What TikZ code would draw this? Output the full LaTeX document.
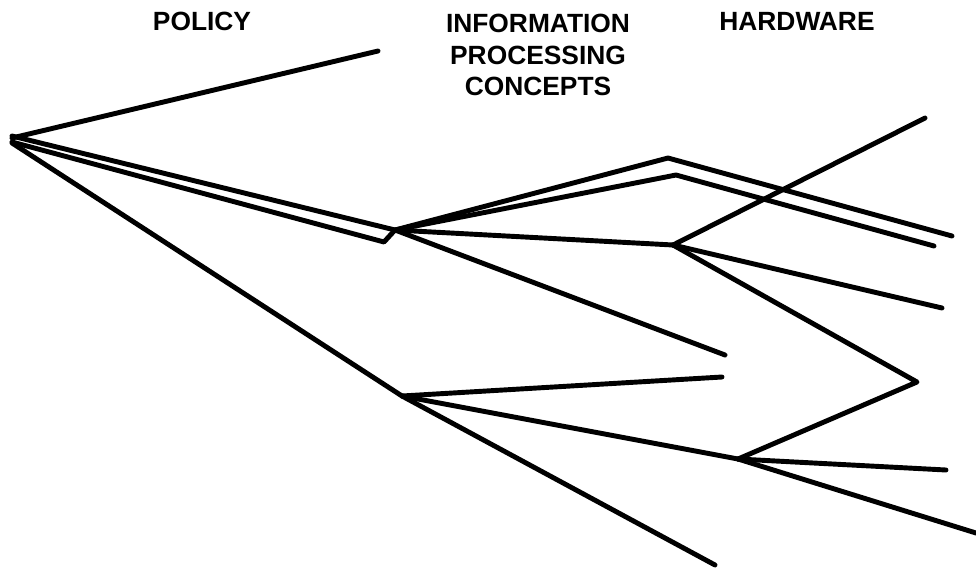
\documentclass[tikz,border=0pt]{standalone}
\usepackage{fontspec}
\setmainfont{Liberation Sans}
\usepackage{tikz}

\tikzset{
  branch/.style={line width=2.8pt, line cap=round, line join=round},
  head/.style={font=\bfseries\fontsize{15}{19}\selectfont, align=center, inner sep=0pt}
}

\begin{document}
\begin{tikzpicture}[x=0.02cm, y=-0.02cm]
            \useasboundingbox (0, 0) rectangle (976, 572);
            % column headings
            \node[head] (policy) at (202, 21) {POLICY};
            \node[head] (info) at (538, 55) {INFORMATION\\[-1pt]PROCESSING\\[-1pt]CONCEPTS};
            \node[head] (hardware) at (797, 21) {HARDWARE};
            % branch points
            \coordinate (root) at (12, 138);
            \coordinate (infoA) at (395, 230);
            \coordinate (infoB) at (402, 396);
            \coordinate (hwA) at (673, 245);
            \coordinate (hwB) at (738, 459);
            \coordinate (bend) at (917, 382);
            % top branch
            \draw[branch] (root) -- (378, 51) coordinate (topend);
            % double branch
            \draw[branch] (12, 136) -- (infoA) -- (668, 158) coordinate (peak) -- (952, 236) coordinate (endA);
            \draw[branch] (12, 142) -- (384, 242) coordinate (notch) -- (infoA) -- (676, 175) coordinate (peakB) -- (934, 246) coordinate (endB);
            % from first information node
            \draw[branch] (infoA) -- (hwA);
            \draw[branch] (infoA) -- (725, 355) coordinate (endC);
            % from first hardware node
            \draw[branch] (hwA) -- (925, 118) coordinate (endD);
            \draw[branch] (hwA) -- (942, 308) coordinate (endE);
            \draw[branch] (hwA) -- (bend) -- (hwB);
            % lower branch
            \draw[branch] (12, 143) -- (infoB) -- (715, 565) coordinate (endF);
            \draw[branch] (infoB) -- (722, 377) coordinate (endG);
            \draw[branch] (infoB) -- (hwB);
            \draw[branch] (hwB) -- (946, 470) coordinate (endH);
            \draw[branch] (hwB) -- (976, 533) coordinate (endI);
        \end{tikzpicture}
\end{document}
